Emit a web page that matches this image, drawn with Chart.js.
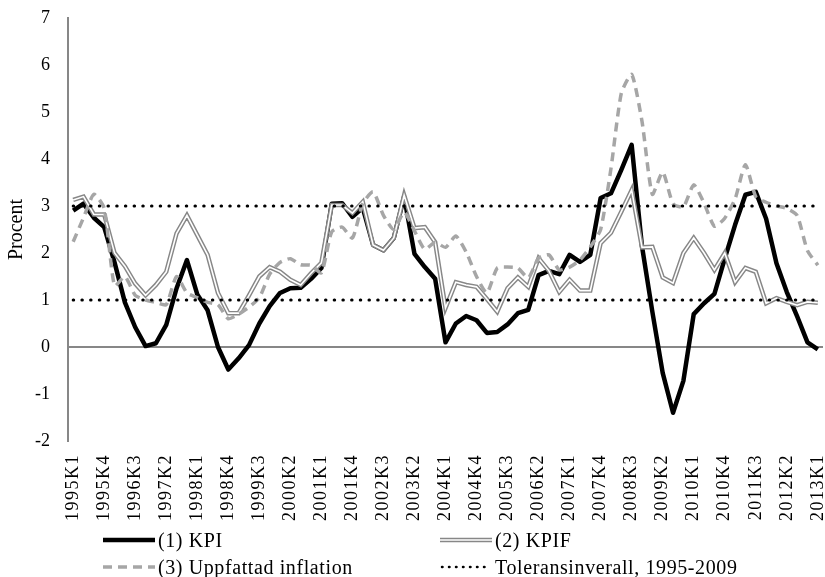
<!DOCTYPE html>
<html>
<head>
<meta charset="utf-8">
<script src="https://cdn.jsdelivr.net/npm/chart.js@4.4.1/dist/chart.umd.min.js"></script>
<style>
  html, body { margin: 0; padding: 0; background: #fff; }
  #wrap { position: relative; width: 825px; height: 577px; }
  #legend { position: absolute; left: 0; top: 0; width: 825px; height: 577px; pointer-events: none;
            font-family: "Liberation Serif", serif; font-size: 20px; letter-spacing: 0.6px; color: #000; }
  .item { position: absolute; display: flex; align-items: center; height: 24px; white-space: nowrap; }
  .item svg { display: block; margin-right: 3px; }
</style>
</head>
<body>
<div id="wrap">
  <canvas id="chart" width="825" height="577" style="width:825px;height:577px"></canvas>
  <div id="legend"></div>
</div>
<script>
// kvartal 1995K1 - 2013K1
const kvartal = [
  '1995K1','1995K2','1995K3','1995K4','1996K1','1996K2','1996K3','1996K4',
  '1997K1','1997K2','1997K3','1997K4','1998K1','1998K2','1998K3','1998K4',
  '1999K1','1999K2','1999K3','1999K4','2000K1','2000K2','2000K3','2000K4',
  '2001K1','2001K2','2001K3','2001K4','2002K1','2002K2','2002K3','2002K4',
  '2003K1','2003K2','2003K3','2003K4','2004K1','2004K2','2004K3','2004K4',
  '2005K1','2005K2','2005K3','2005K4','2006K1','2006K2','2006K3','2006K4',
  '2007K1','2007K2','2007K3','2007K4','2008K1','2008K2','2008K3','2008K4',
  '2009K1','2009K2','2009K3','2009K4','2010K1','2010K2','2010K3','2010K4',
  '2011K1','2011K2','2011K3','2011K4','2012K1','2012K2','2012K3','2012K4',
  '2013K1'
];

// (1) KPI
const kpi = [
  2.9, 3.05, 2.75, 2.55, 1.8, 0.95, 0.42, 0.02,
  0.08, 0.47, 1.25, 1.85, 1.12, 0.78, 0.0, -0.48,
  -0.24, 0.04, 0.5, 0.87, 1.15, 1.25, 1.26, 1.45,
  1.68, 3.05, 3.06, 2.77, 2.96, 2.17, 2.06, 2.32,
  3.2, 1.98, 1.7, 1.45, 0.1, 0.5, 0.66, 0.57,
  0.3, 0.32, 0.48, 0.72, 0.79, 1.53, 1.62, 1.55,
  1.96, 1.81, 1.96, 3.17, 3.27, 3.77, 4.3, 2.14,
  0.75, -0.55, -1.4, -0.72, 0.7, 0.93, 1.13, 1.88,
  2.6, 3.24, 3.3, 2.73, 1.78, 1.17, 0.65, 0.1,
  -0.05
];

// (2) KPIF
const kpif = [
  3.13, 3.2, 2.82, 2.82, 2.0, 1.72, 1.35, 1.1,
  1.32, 1.6, 2.42, 2.8, 2.38, 1.96, 1.15, 0.72,
  0.72, 1.1, 1.5, 1.7, 1.6, 1.43, 1.32, 1.57,
  1.79, 3.02, 3.02, 2.85, 3.09, 2.17, 2.06, 2.32,
  3.23, 2.53, 2.55, 2.23, 0.83, 1.38, 1.32, 1.28,
  1.02, 0.75, 1.25, 1.48, 1.28, 1.89, 1.62, 1.17,
  1.43, 1.2, 1.2, 2.21, 2.43, 2.88, 3.34, 2.12,
  2.13, 1.48, 1.36, 2.0, 2.32, 2.0, 1.64, 2.0,
  1.38, 1.68, 1.6, 0.93, 1.04, 0.96, 0.89, 0.96,
  0.94
];

// (3) Uppfattad inflation
const uppfattad = [
  2.24, 2.75, 3.25, 2.95, 1.3, 1.5, 1.1, 1.0,
  0.95, 0.9, 1.5, 1.15, 1.05, 0.95, 0.9, 0.6,
  0.7, 0.85, 1.05, 1.55, 1.8, 1.88, 1.75, 1.74,
  1.58, 2.45, 2.55, 2.32, 3.05, 3.3, 2.8, 2.5,
  2.87, 2.47, 2.08, 2.23, 2.12, 2.36, 2.02, 1.5,
  1.15, 1.68, 1.7, 1.68, 1.47, 1.89, 1.96, 1.64,
  1.7, 1.85, 2.13, 2.5, 3.8, 5.4, 5.8, 4.8,
  3.25, 3.72, 3.05, 2.98, 3.45, 3.06, 2.57, 2.74,
  3.15, 3.88, 3.2, 3.08, 3.0, 2.95, 2.8, 2.05,
  1.74
];

// toleransintervall
const toleransNedre = 1;
const toleransOvre = 3;

const serier = ['(1) KPI', '(2) KPIF', '(3) Uppfattad inflation', 'Toleransinverall, 1995-2009'];

const typsnitt = '"Liberation Serif", "Times New Roman", serif';
const gra = '#878787';

const tolerans = (y) => [{ x: kvartal[0], y }, { x: kvartal[kvartal.length - 1], y }];

// x-etiketterna ritas efter linjerna (z: 1), med lite extra teckenavstånd
const teckenavstand = {
  id: 'teckenavstand',
  afterDatasetsDraw(chart) { chart.ctx.letterSpacing = '1.5px'; },
  afterDraw(chart) { chart.ctx.letterSpacing = '0px'; }
};

const dotted = { borderColor: '#000', borderWidth: 3, borderDash: [0.5, 8.2], borderCapStyle: 'round', pointRadius: 0, order: 1 };

let chart = new Chart(document.getElementById('chart').getContext('2d'), {
  type: 'line',
  data: {
    labels: kvartal,
    datasets: [
      { label: serier[0], data: kpi, borderColor: '#000', borderWidth: 4.5, pointRadius: 0, borderJoinStyle: 'round', order: 5 },
      { label: serier[1], data: kpif, borderColor: gra, borderWidth: 4.5, pointRadius: 0, order: 4 },
      { label: serier[1] + ' inre', data: kpif, borderColor: '#fff', borderWidth: 1.6, pointRadius: 0, order: 3 },
      { label: serier[2], data: uppfattad, borderColor: '#a6a6a6', borderWidth: 3.5, borderDash: [9, 6], tension: 0.2, pointRadius: 0, order: 2 },
      Object.assign({ label: serier[3], data: tolerans(toleransOvre) }, dotted),
      Object.assign({ label: serier[3] + ' nedre', data: tolerans(toleransNedre) }, dotted)
    ]
  },
  options: {
    responsive: false,
    animation: false,
    devicePixelRatio: 1,
    layout: { padding: { top: 18, right: 2, bottom: 54, left: 0 } },
    plugins: { legend: { display: false }, tooltip: { enabled: false } },
    scales: {
      x: {
        offset: true,
        grid: { display: false, drawTicks: false },
        border: { display: false },
        ticks: {
          autoSkip: false, maxRotation: 90, minRotation: 90, padding: 13, z: 1,
          color: '#000', font: { family: typsnitt, size: 18 },
          callback: function (v, i) { return i % 3 === 0 ? this.getLabelForValue(v) : ''; }
        },
        afterFit: (s) => { s.height = 82; s.paddingLeft = 0; s.paddingRight = 0; }
      },
      y: {
        min: -2, max: 7,
        ticks: { stepSize: 1, padding: 18, color: '#000', font: { family: typsnitt, size: 18 } },
        grid: {
          drawTicks: false, lineWidth: 2,
          color: (c) => (c.tick && c.tick.value === 0 ? gra : 'rgba(0,0,0,0)')
        },
        border: { color: gra, width: 2 },
        title: { display: true, text: 'Procent', color: '#000', font: { family: typsnitt, size: 20 }, padding: { top: 5, bottom: 0 } },
        afterFit: (s) => { s.width = 68; s.paddingTop = 0; s.paddingBottom = 0; }
      }
    }
  },
  plugins: [teckenavstand]
});

// legend, två kolumner
const prov = [
  '<line x1="0" y1="6" x2="52" y2="6" stroke="#000" stroke-width="4.5"/>',
  '<line x1="0" y1="6" x2="52" y2="6" stroke="' + gra + '" stroke-width="4.5"/><line x1="0" y1="6" x2="52" y2="6" stroke="#fff" stroke-width="1.6"/>',
  '<line x1="0" y1="6" x2="52" y2="6" stroke="#a6a6a6" stroke-width="3.5" stroke-dasharray="9 6"/>',
  '<line x1="2" y1="6" x2="50" y2="6" stroke="#000" stroke-width="2.5" stroke-dasharray="0.5 6.5" stroke-linecap="round"/>'
];
const placering = [[103, 528], [440, 528], [103, 555], [440, 555]];
let legend = document.getElementById('legend');
serier.forEach((namn, i) => {
  let item = document.createElement('div');
  item.className = 'item';
  item.style.left = placering[i][0] + 'px';
  item.style.top = placering[i][1] + 'px';
  item.innerHTML = '<svg width="52" height="12">' + prov[i] + '</svg><span>' + namn + '</span>';
  legend.appendChild(item);
});
</script>
</body>
</html>
